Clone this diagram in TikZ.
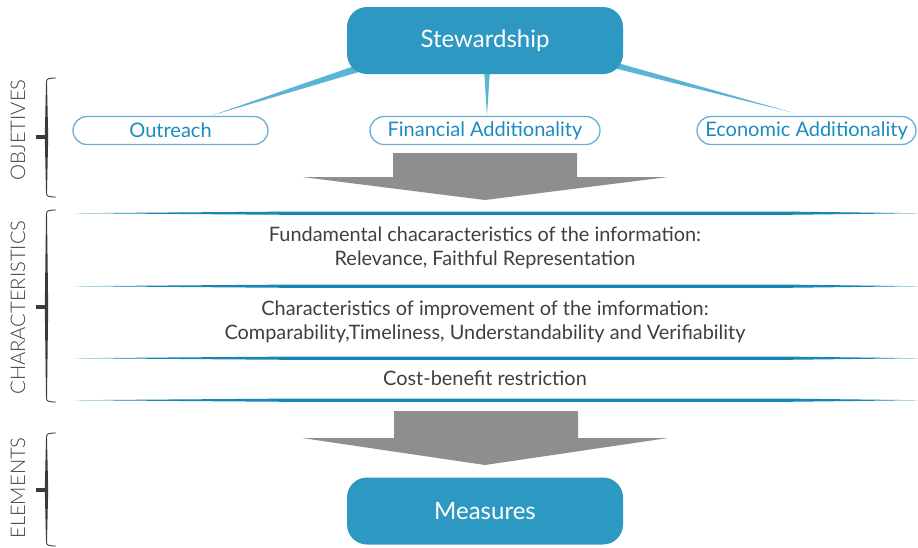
\documentclass[tikz,border=0pt]{standalone}
\usepackage{fontspec}
\setmainfont{Lato}
\newfontfamily\latolight{Lato Light}
\usetikzlibrary{calc,backgrounds}
\definecolor{stewblue}{HTML}{2D98C2}
\definecolor{wedgeblue}{HTML}{5AB4D6}
\definecolor{pillborder}{HTML}{6AAED6}
\definecolor{pilltext}{HTML}{1A8CC0}
\definecolor{linedark}{HTML}{1786B5}
\definecolor{linelight}{HTML}{A9D6EA}
\definecolor{arrowgray}{HTML}{8E8D90}
\definecolor{textgray}{HTML}{3F3F42}
\definecolor{bracegray}{HTML}{3A3940}
\pgfdeclarehorizontalshading{sepshade}{100bp}{color(0bp)=(white); color(12bp)=(linelight); color(24bp)=(linedark); color(82bp)=(linedark); color(100bp)=(white)}
\begin{document}
\begin{tikzpicture}[x=1pt,y=-1pt,
 bigbox/.style={fill=stewblue, rounded corners=20pt, minimum width=276pt, minimum height=67pt, text=white, font=\fontsize{24}{28}\selectfont, inner sep=0pt},
 pill/.style={draw=pillborder, fill=white, line width=1.3pt, rounded corners=14pt, minimum height=28pt, text=pilltext, font=\fontsize{20}{24}\selectfont, inner sep=0pt},
 wedge/.style={fill=wedgeblue},
 bigarrow/.style={fill=arrowgray},
 sepline/.style={shading=sepshade},
 info/.style={text=textgray, font=\fontsize{19.9}{24.5}\selectfont, align=center},
 sidelabel/.style={text=textgray, rotate=90, font=\latolight\fontsize{20.2}{24}\selectfont},
 bracethin/.style={draw=bracegray, line width=0.9pt},
 bracefill/.style={fill=bracegray}
]
\useasboundingbox (0,0) rectangle (918,547);

% top node and objectives
\node[bigbox] (stew) at (485,40.5) {Stewardship};
\node[pill, minimum width=195pt] (out) at (170.5,130.5) {Outreach};
\node[pill, minimum width=230pt] (fin) at (485,130.5) {Financial Additionality};
\node[pill, minimum width=219pt] (eco) at (806.5,130.5) {Economic Additionality};

\begin{pgfonlayer}{background}
\fill[wedge] ($(stew.south west)+(33,-17)$) -- ($(stew.south west)+(35,-9)$) -- ($(out.north)+(40,0)$) -- cycle;
\fill[wedge] ($(stew.south)+(-1,-5)$) -- ($(stew.south)+(5,-5)$) -- ($(fin.north)+(2,0)$) -- cycle;
\fill[wedge] ($(stew.south east)+(-33,-19)$) -- ($(stew.south east)+(-33,-12)$) -- ($(eco.north)+(-13,-3)$) -- cycle;
\end{pgfonlayer}

% first big arrow
\fill[bigarrow] (393,153) -- (577,153) -- (577,177) -- (668,177) -- (485,200) -- (302,177) -- (393,177) -- cycle;

% separator lines (tapered, fading at both ends)
\foreach \yy in {213.2,286.2,358.2,400.2} {
  \shade[sepline] (75,\yy) -- (300,\yy-1.7) -- (780,\yy-1.7) -- (918,\yy) -- (780,\yy+1.7) -- (300,\yy+1.7) -- cycle;
}

% characteristics texts
\node[info] (fund) at (485,248) {Fundamental chacaracteristics of the information:\\Relevance, Faithful Representation};
\node[info] (impr) at (485,322) {Characteristics of improvement of the imformation:\\Comparability,Timeliness, Understandability and Verifiability};
\node[info] (cost) at (485,378) {Cost-benefit restriction};

% second big arrow
\fill[bigarrow] (394,411) -- (578,411) -- (578,438) -- (668,438) -- (485,465) -- (302,438) -- (394,438) -- cycle;

% bottom node
\node[bigbox] (meas) at (485,511) {Measures};

% side labels
\node[sidelabel] (objl) at (18,130) {OBJETIVES};
\node[sidelabel] (charl) at (18,307.5) {CHARACTERISTICS};
\node[sidelabel] (eleml) at (18,488) {ELEMENTS};

% brackets: top y, middle y, bottom y
\foreach \ta/\mi/\bo in {78/137/197, 210/307/402, 433/490/546} {
  \draw[bracethin] (56,\ta) .. controls (48,\ta) and (46.5,\ta+1) .. (46.5,\ta+4) -- (46.5,\bo-4) .. controls (46.5,\bo-1) and (48,\bo) .. (56,\bo);
  \fill[bracefill] (46.0,\ta+6) -- (47.0,\ta+6) -- (48.2,\mi) -- (47.0,\bo-6) -- (46.0,\bo-6) -- (44.8,\mi) -- cycle;
  \fill[bracefill] (36,\mi-2.4) rectangle (47,\mi+2.4);
}
\end{tikzpicture}
\end{document}
